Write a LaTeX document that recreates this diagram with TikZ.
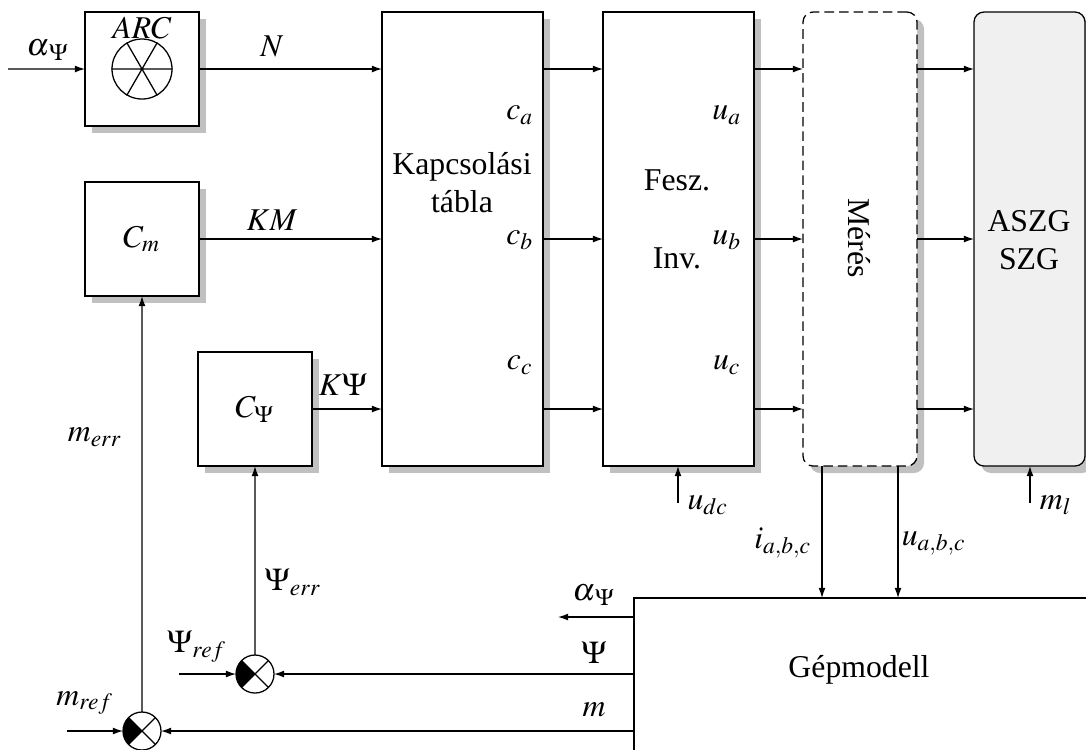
\documentclass[tikz,border=0pt]{standalone}
\usepackage{mathptmx}
\usepackage{fontspec}
\setmainfont{Liberation Serif}
\usetikzlibrary{arrows.meta,shadows,calc}
\definecolor{shgray}{HTML}{C0C0C0}
\definecolor{boxfill}{HTML}{F0F0F0}
\begin{document}
\begin{tikzpicture}[x=0.315pt,y=-0.315pt,
  box/.style={draw,fill=white,inner sep=0pt,outer sep=0pt,anchor=north west,
    drop shadow={shadow xshift=2.2pt,shadow yshift=-2.2pt,fill=shgray,opacity=1}},
  arr/.style={-{Latex[length=3.2pt,width=2.2pt]}},
  lbl/.style={inner sep=0pt},
  sj/.style={circle,draw,fill=white,minimum size=11.97pt,inner sep=0pt,outer sep=0pt,
    path picture={
      \coordinate (pc) at (path picture bounding box.center);
      \fill[black] (pc) -- ++(135:5.985pt) arc[start angle=135,end angle=225,radius=5.985pt] -- cycle;
      \draw[black] (pc) +(45:5.985pt) -- +(225:5.985pt) (pc) +(135:5.985pt) -- +(315:5.985pt);
    }}]
\useasboundingbox (0,0) rectangle (1086,749);
\clip (0,0) rectangle (1086,749);

% blocks
\node[box,minimum width=35.91pt,minimum height=35.91pt] (arc) at (85,12) {};
\node[box,minimum width=35.91pt,minimum height=35.91pt] (cm) at (85,182) {$C_m$};
\node[box,minimum width=35.91pt,minimum height=35.91pt] (cpsi) at (198,352) {$C_\Psi$};
\node[box,minimum width=50.72pt,minimum height=143.01pt] (kap) at (382,12) {};
\node[box,minimum width=47.57pt,minimum height=143.01pt] (fesz) at (603,12) {};
\node[box,minimum width=35.91pt,minimum height=143.01pt,rounded corners=3.15pt,
  dash pattern=on 3pt off 1.6pt] (mer) at (803,12) {};
\node[box,fill=boxfill,minimum width=34.97pt,minimum height=143.01pt,rounded corners=3.15pt] (aszg) at (974,12) {};
\node[draw,fill=white,inner sep=0pt,outer sep=0pt,anchor=north west,
  minimum width=144.9pt,minimum height=50.4pt] (gep) at (634,598) {};

% ARC symbol
\node[lbl] (arct) at (142,28) {$ARC$};
\node[circle,draw,minimum size=18.9pt,inner sep=0pt] (arcc) at (142,69) {};
\draw (arcc.west) -- (arcc.east) (arcc.60) -- (arcc.240) (arcc.120) -- (arcc.300);

% block texts
\node[lbl,align=center] (kapt) at (462,183) {Kapcsolási\\tábla};
\node[lbl,align=center] (feszt) at (677,219) {Fesz.\\[12.6pt]Inv.};
\node[lbl,rotate=-90] (mert) at (859,238) {Mérés};
\node[lbl,align=center] (aszgt) at (1029,240) {ASZG\\SZG};
\node[lbl] (gept) at (859,670) {Gépmodell};

% summing junctions
\node[sj] (sj1) at (255,674) {};
\node[sj] (sj2) at (142,731) {};

% free ends
\coordinate (ain) at (8,69);
\coordinate (psiref) at (179,674);
\coordinate (mref) at (67,731);
\coordinate (udc) at (678,503);
\coordinate (ml) at (1030,503);

% connectors
\draw[arr] (ain) -- (arc.west);
\draw[arr] (arc.east) -- (arc.east -| kap.west);
\draw[arr] (cm.east) -- (cm.east -| kap.west);
\draw[arr] (cpsi.east) -- (cpsi.east -| kap.west);
\draw[arr] (kap.east |- arc.east) -- (fesz.west |- arc.east);
\draw[arr] (kap.east) -- (fesz.west);
\draw[arr] (kap.east |- cpsi.east) -- (fesz.west |- cpsi.east);
\draw[arr] (fesz.east |- arc.east) -- (mer.west |- arc.east);
\draw[arr] (fesz.east) -- (mer.west);
\draw[arr] (fesz.east |- cpsi.east) -- (mer.west |- cpsi.east);
\draw[arr] (mer.east |- arc.east) -- (aszg.west |- arc.east);
\draw[arr] (mer.east) -- (aszg.west);
\draw[arr] (mer.east |- cpsi.east) -- (aszg.west |- cpsi.east);
\draw[arr] (udc) -- (udc |- fesz.south);
\draw[arr] (ml) -- (ml |- aszg.south);
\draw[arr] ([xshift=-11.97pt]mer.south) -- ([xshift=-11.97pt]mer.south |- gep.north);
\draw[arr] ([xshift=11.97pt]mer.south) -- ([xshift=11.97pt]mer.south |- gep.north);
\draw[arr] ($(gep.north west)+(0,19)$) -- ++(-76,0);
\draw[arr] ($(gep.north west)+(0,76)$) -- (sj1.east);
\draw[arr] ($(gep.north west)+(0,133)$) -- (sj2.east);
\draw[arr] (psiref) -- (sj1.west);
\draw[arr] (mref) -- (sj2.west);
\draw[arr] (sj1.north) -- (cpsi.south);
\draw[arr] (sj2.north) -- (cm.south);

% labels
\node[lbl] (la1) at (48,50) {$\alpha_{\,\Psi}$};
\node[lbl] (lN) at (272,46) {$N$};
\node[lbl] (lKM) at (272,220) {$KM$};
\node[lbl] (lKP) at (343,385) {$K\Psi$};
\node[lbl] (lmerr) at (95,437) {$m_{err}$};
\node[lbl] (lperr) at (293,582) {$\Psi_{err}$};
\node[lbl] (lpref) at (197,647) {$\Psi_{ref}$};
\node[lbl] (lmref) at (85,703) {$m_{ref}$};
\node[lbl] (lca) at (520,115) {$c_a$};
\node[lbl] (lcb) at (520,240) {$c_b$};
\node[lbl] (lcc) at (520,365) {$c_c$};
\node[lbl] (lua) at (727,115) {$u_a$};
\node[lbl] (lub) at (727,240) {$u_b$};
\node[lbl] (luc) at (727,365) {$u_c$};
\node[lbl] (ludc) at (708,505) {$u_{dc}$};
\node[lbl] (lml) at (1056,505) {$m_l$};
\node[lbl] (liabc) at (783,543) {$i_{a,b,c}$};
\node[lbl] (luabc) at (934,543) {$u_{a,b,c}$};
\node[lbl] (la2) at (594,595) {$\alpha_{\,\Psi}$};
\node[lbl] (lpsi) at (594,653) {$\Psi$};
\node[lbl] (lm) at (594,710) {$m$};
\end{tikzpicture}
\end{document}
